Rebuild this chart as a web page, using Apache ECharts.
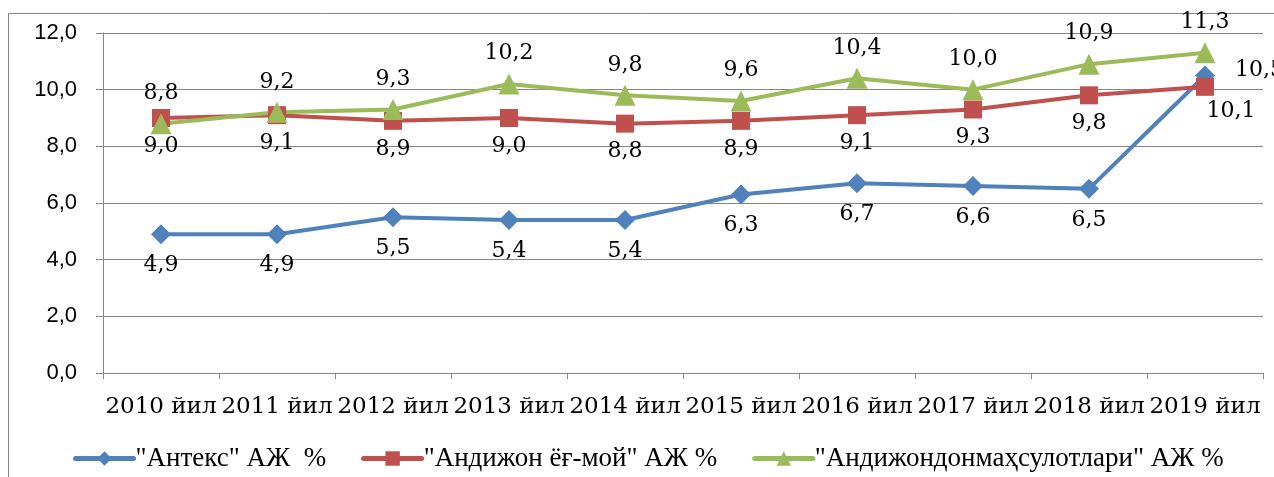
<!DOCTYPE html>
<html>
<head>
<meta charset="utf-8">
<script src="https://cdn.jsdelivr.net/npm/echarts@6/dist/echarts.min.js"></script>
<style>
  html, body { margin: 0; padding: 0; background: #fff; }
  #chart { width: 1274px; height: 477px; }
</style>
</head>
<body>
<div id="chart"></div>
<script>
const years = ['2010 йил', '2011 йил', '2012 йил', '2013 йил', '2014 йил',
  '2015 йил', '2016 йил', '2017 йил', '2018 йил', '2019 йил']
const antexName = '"Антекс" АЖ  %'
const antex = [4.9, 4.9, 5.5, 5.4, 5.4, 6.3, 6.7, 6.6, 6.5, 10.5]
const oilName = '"Андижон ёғ-мой" АЖ %'
const oil = [9.0, 9.1, 8.9, 9.0, 8.8, 8.9, 9.1, 9.3, 9.8, 10.1]
const breadName = '"Андижондонмаҳсулотлари" АЖ %'
const bread = [8.8, 9.2, 9.3, 10.2, 9.8, 9.6, 10.4, 10.0, 10.9, 11.3]

const comma = v => v.toFixed(1).replace('.', ',')
const serif = 'DejaVu Serif'

const chart = echarts.init(document.getElementById('chart'))

function withLast(values, lastLabel) {
  return values.map((v, i) => i === values.length - 1 ? { value: v, label: lastLabel } : v)
}

function lineSeries(name, values, color, symbol, size, pos, dist, lastLabel) {
  return {
    name: name,
    type: 'line',
    data: lastLabel ? withLast(values, lastLabel) : values,
    symbol: symbol,
    symbolSize: size,
    lineStyle: { color: color, width: 4 },
    itemStyle: { color: color },
    label: {
      show: true,
      position: pos,
      distance: dist,
      color: '#000',
      fontFamily: serif,
      fontSize: 22,
      formatter: p => comma(p.value)
    }
  }
}

chart.setOption({
  animation: false,
  graphic: [{
    type: 'rect',
    shape: { x: 8.5, y: 13.5, width: 1300, height: 500 },
    style: { fill: null, stroke: '#868686', lineWidth: 1 },
    silent: true
  }],
  grid: { left: 103, right: 11, top: 33, bottom: 104 },
  legend: {
    left: 68,
    top: 440,
    itemWidth: 58,
    itemHeight: 18,
    itemGap: 35,
    lineStyle: { width: 5, cap: 'round' },
    textStyle: { fontFamily: 'Liberation Serif', fontSize: 27, color: '#000', padding: [0, 0, 0, -3] },
    data: [antexName, oilName, breadName]
  },
  xAxis: {
    type: 'category',
    data: years,
    axisLine: { lineStyle: { color: '#868686' } },
    axisTick: { show: true, length: 6, lineStyle: { color: '#868686' } },
    axisLabel: { color: '#000', fontFamily: serif, fontSize: 23, margin: 23, interval: 0 }
  },
  yAxis: {
    type: 'value',
    min: 0,
    max: 12,
    interval: 2,
    axisLine: { show: true, lineStyle: { color: '#868686' } },
    axisTick: { show: true, length: 7, lineStyle: { color: '#868686' } },
    splitLine: { lineStyle: { color: '#868686' } },
    axisLabel: {
      color: '#000',
      fontFamily: 'Liberation Sans',
      fontSize: 22,
      margin: 26,
      formatter: comma
    }
  },
  series: [
    lineSeries(antexName, antex, '#4F81BD', 'diamond', 20, 'bottom', 10,
      { position: 'right', distance: 20, offset: [0, -5] }),
    lineSeries(oilName, oil, '#C0504D', 'rect', 18, 'bottom', 8,
      { position: 'bottom', distance: 4, offset: [26, 0] }),
    lineSeries(breadName, bread, '#9BBB59', 'triangle', 21, 'top', 9)
  ]
})
</script>
</body>
</html>
